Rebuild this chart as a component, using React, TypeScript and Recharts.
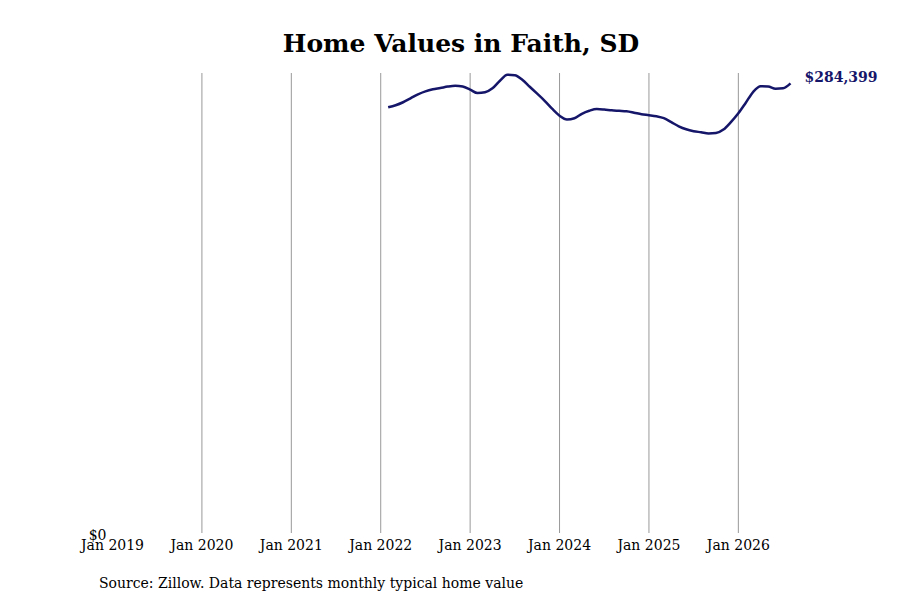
import React from "react";
import { LineChart, Line, XAxis, YAxis, ReferenceLine } from "recharts";

// months since Jan 2019
const months: number[] = [
  37, 38, 39, 40, 41, 42, 43, 44, 45, 46, 47, 48, 49, 50, 51, 52, 53, 54, 55, 56,
  57, 58, 59, 60, 61, 62, 63, 64, 65, 66, 67, 68, 69, 70, 71, 72, 73, 74, 75, 76,
  77, 78, 79, 80, 81, 82, 83, 84, 85, 86, 87, 88, 89, 90, 91,
];
const homeValues: number[] = [
  269300, 270600, 272500, 275000, 277500, 279400, 280700, 281500, 282400, 282900,
  282400, 280500, 278300, 278800, 281300, 286100, 289900, 289600, 286700, 282300,
  277900, 273400, 268400, 264000, 261600, 262400, 265200, 267100, 268200, 267900,
  267400, 267100, 266800, 265900, 264900, 264300, 263600, 262400, 259900, 257300,
  255400, 254200, 253500, 252700, 253000, 255200, 259900, 265500, 272200, 279100,
  282600, 282400, 281000, 281300, 284399,
];
const xTicks: number[] = [0, 12, 24, 36, 48, 60, 72, 84];
const xTickLabels: string[] = [
  "Jan 2019", "Jan 2020", "Jan 2021", "Jan 2022", "Jan 2023", "Jan 2024", "Jan 2025", "Jan 2026",
];
const gridMonths: number[] = [12, 24, 36, 48, 60, 72, 84];
const yTicks: number[] = [0];
const yMax = 291000;

const data = months.map((m, i) => ({ m, v: homeValues[i] }));
const FONT = "'DejaVu Serif', serif";
const LINE_COLOR = "#15156a";

const lastIndex = data.length - 1;
const EndLabel = (props: any) => {
  const { x, y, index, value } = props;
  if (index !== lastIndex) return null;
  return (
    <text x={x + 14} y={y - 1} fill={LINE_COLOR} fontSize={14} fontWeight="bold" fontFamily={FONT}>
      {"$" + Number(value).toLocaleString("en-US")}
    </text>
  );
};

export default function App() {
  return (
    <div style={{ position: "absolute", left: 0, top: 0, width: 900, height: 600, background: "#fff" }}>
      <div
        style={{
          position: "absolute", left: 0, top: 29, width: 922, textAlign: "center",
          fontFamily: FONT, fontWeight: "bold", fontSize: 25, color: "#000",
        }}
      >
        Home Values in Faith, SD
      </div>
      <LineChart
        width={900}
        height={600}
        data={data}
        margin={{ top: 73, right: 109.5, bottom: 0, left: 62.5 }}
        style={{ position: "absolute", left: 0, top: 0 }}
      >
        <XAxis
          dataKey="m"
          type="number"
          domain={[0, 91]}
          ticks={xTicks}
          tickFormatter={(t: number) => xTickLabels[xTicks.indexOf(t)]}
          axisLine={false}
          tickLine={false}
          tickSize={5}
          height={67}
          tick={{ fontSize: 14, fontFamily: FONT, fill: "#000" }}
          interval={0}
        />
        <YAxis
          type="number"
          domain={[0, yMax]}
          ticks={yTicks}
          tickFormatter={(t: number) => "$" + t}
          axisLine={false}
          tickLine={false}
          tickSize={4}
          width={50}
          tick={{ fontSize: 14, fontFamily: FONT, fill: "#000", dy: 2 }}
        />
        {gridMonths.map((g) => (
          <ReferenceLine key={g} x={g} stroke="#999" strokeWidth={1} />
        ))}
        <Line
          dataKey="v"
          type="monotone"
          stroke={LINE_COLOR}
          strokeWidth={2.5}
          dot={false}
          isAnimationActive={false}
          label={<EndLabel />}
        />
      </LineChart>
      <div
        style={{
          position: "absolute", left: 99, top: 575, fontFamily: FONT, fontSize: 14, color: "#000",
          whiteSpace: "nowrap",
        }}
      >
        Source: Zillow. Data represents monthly typical home value
      </div>
    </div>
  );
}
